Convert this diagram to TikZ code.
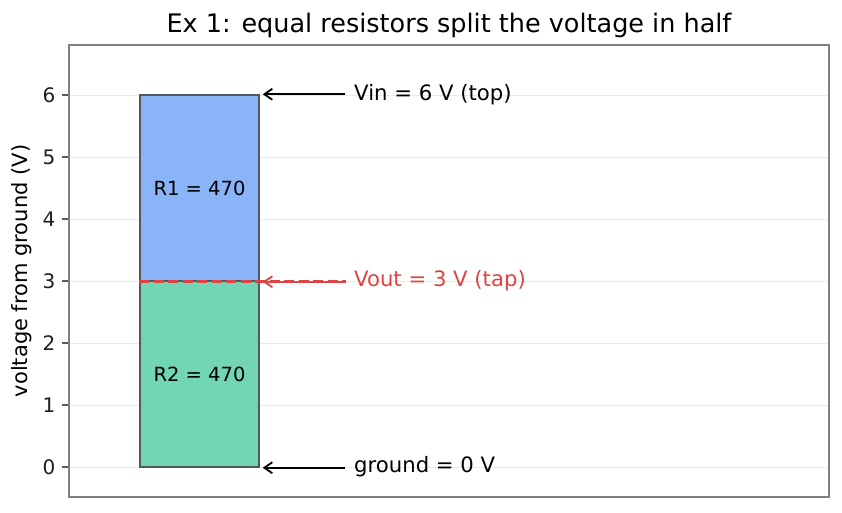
\documentclass[tikz,border=0pt]{standalone}
\usepackage{fontspec}
\setmainfont{DejaVu Sans}
\usetikzlibrary{arrows.meta}
\definecolor{gridc}{RGB}{232,235,238}
\definecolor{framec}{RGB}{128,128,128}
\definecolor{blueR}{RGB}{138,180,248}
\definecolor{greenR}{RGB}{114,214,180}
\definecolor{edgec}{RGB}{80,90,90}
\definecolor{redc}{RGB}{222,68,68}
\tikzset{
  ticklab/.style={anchor=east,font=\fontsize{20}{24}\selectfont,text=black!88,inner sep=0pt},
  annot/.style={anchor=west,font=\fontsize{21.2}{25}\selectfont,inner sep=0pt},
  barlab/.style={font=\fontsize{19.5}{23}\selectfont,inner sep=0pt},
  arr/.style={-{Straight Barb[length=8pt,width=11pt]},line width=1.8pt},
}
\begin{document}
\begin{tikzpicture}[x=1pt,y=-1pt]
\useasboundingbox (0,0) rectangle (842,512);
\fill[white] (0,0) rectangle (842,512);
% title
\node[font=\fontsize{25.5}{30}\selectfont] (title) at (449,25) {Ex 1: equal resistors split the voltage in half};
% grid
\foreach \v in {0,...,6}{
  \draw[gridc,line width=1pt] (69,{467-62*\v}) -- (829,{467-62*\v});
  \draw[framec!70!black,line width=1.4pt] (62,{467-62*\v}) -- (69,{467-62*\v});
  \node[ticklab] at (55.5,{467-62*\v}) {\v};
}
% frame
\draw[framec,line width=1.8pt] (69,45) rectangle (829,497);
\node[rotate=90,font=\fontsize{21}{25}\selectfont] (ylab) at (22,271) {voltage from ground (V)};
% bars
\node[draw=edgec,fill=greenR,line width=1.5pt,minimum width=119pt,minimum height=186pt,inner sep=0pt] (R2) at (199.5,374) {};
\node[draw=edgec,fill=blueR,line width=1.5pt,minimum width=119pt,minimum height=186pt,inner sep=0pt] (R1) at (199.5,188) {};
\node[barlab] (r1l) at (199.5,188) {R1 = 470};
\node[barlab] (r2l) at (199.5,374) {R2 = 470};
% annotations
\node[annot] (vin) at (354,95) {Vin = 6 V (top)};
\node[annot,text=redc] (vout) at (354,281) {Vout = 3 V (tap)};
\node[annot] (gnd) at (354,467) {ground = 0 V};
\coordinate (tin) at (R1.north east);
\coordinate (tap) at (R1.south east);
\coordinate (tg) at (R2.south east);
\draw[redc,dash pattern=on 10pt off 4.5pt,line width=2.6pt] (R1.south west) -- ([xshift=86pt]tap);
\draw[arr] ([xshift=-9pt]vin.west |- tin) -- ([xshift=3pt]tin);
\draw[arr,redc] ([xshift=-9pt]vout.west |- tap) -- ([xshift=3pt]tap);
\draw[arr] ([xshift=-9pt]gnd.west |- tg) -- ([xshift=3pt]tg);
\end{tikzpicture}
\end{document}
